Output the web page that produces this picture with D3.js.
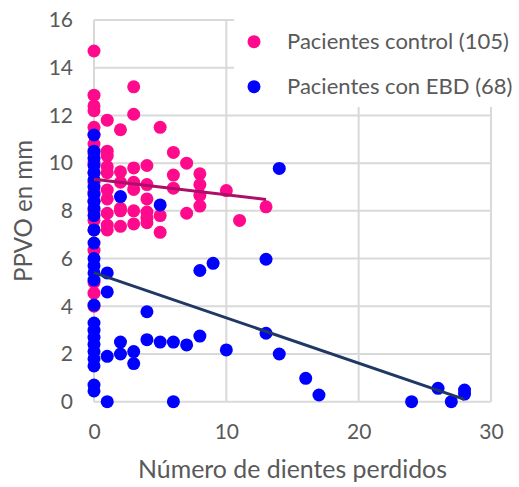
<!DOCTYPE html>
<html>
<head>
<meta charset="utf-8">
<script src="https://cdn.jsdelivr.net/npm/d3@7/dist/d3.min.js"></script>
<style>
  html, body { margin: 0; padding: 0; background: #fff; }
  svg { display: block; }
  text { font-family: Lato, "Open Sans", sans-serif; fill: #595959; }
</style>
</head>
<body>
<svg id="chart" width="519" height="487"></svg>
<script>
// Control patients: teeth lost (x) and PPVO in mm (y)
const controlX = [
  0,0,0,0,0,0,0,0,0,0,0,0,0,0,0,0,0,0,0,0,
  1,1,1,1,1,1,1,1,1,1,
  2,2,2,2,2,2,
  3,3,3,3,3,3,3,
  4,4,4,4,4,4,
  5,5,5,
  6,6,6,
  7,7,
  8,8,8,8,
  10,11,13
];
const controlY = [
  14.7,12.85,12.4,12.2,11.5,11.2,10.8,10.4,10.0,9.6,9.2,8.8,8.4,8.0,7.6,7.2,6.35,4.55,4.0,5.0,
  11.8,10.5,10.3,9.85,9.6,8.87,8.5,7.9,7.4,7.2,
  11.4,9.64,9.2,8.1,7.35,8.0,
  13.2,12.05,9.8,9.2,8.9,8.0,7.45,
  9.9,9.1,8.5,7.95,7.7,7.5,
  11.5,7.8,7.1,
  10.45,9.5,8.95,
  10.0,7.9,
  9.55,9.1,8.65,8.2,
  8.85,7.6,8.17
];

// Patients with EBD
const ebdX = [
  0,0,0,0,0,0,0,0,0,0,0,0,0,0,0,0,0,0,0,0,0,0,0,0,0,0,0,
  1,1,1,1,
  2,2,2,
  3,3,
  4,4,
  5,5,
  6,6,
  7,
  8,8,
  9,
  10,
  13,13,
  14,14,
  16,17,24,26,27,28,28
];
const ebdY = [
  11.18,10.5,10.2,9.9,9.6,9.3,9.0,8.7,8.4,8.1,7.8,7.2,6.65,6.0,5.7,5.4,5.1,4.05,3.3,3.0,2.7,2.4,2.1,1.8,1.5,0.7,0.45,
  5.4,4.6,1.9,0,
  8.6,2.5,2.0,
  2.1,1.6,
  3.77,2.6,
  8.25,2.5,
  2.5,0,
  2.38,
  5.5,2.75,
  5.8,
  2.17,
  5.97,2.87,
  9.78,2.0,
  0.98,0.28,0,0.56,0,0.49,0.32
];

// Linear trend lines (start and end points)
const controlTrendX = [0, 13];
const controlTrendY = [9.32, 8.48];
const ebdTrendX = [0, 28];
const ebdTrendY = [5.41, 0.1];

const xTicks = [0, 10, 20, 30];
const yTicks = [0, 2, 4, 6, 8, 10, 12, 14, 16];
const legendLabels = ["Pacientes control (105)", "Pacientes con EBD (68)"];
const xTitle = "Número de dientes perdidos";
const yTitle = "PPVO en mm";

const colors = { control: "#ff0a8c", ebd: "#0000ff", controlTrend: "#ad0f68", ebdTrend: "#1f3864", grid: "#d9d9d9" };

const svg = d3.select("#chart");
const x = d3.scaleLinear().domain([0, 30]).range([94, 491]);
const y = d3.scaleLinear().domain([0, 16]).range([401.7, 20]);

// fit a text element to a target width by scaling its font size
function fitWidth(sel, target) {
  const w = sel.node().getComputedTextLength();
  const fs = parseFloat(sel.attr("font-size"));
  sel.attr("font-size", (fs * target / w).toFixed(2));
}

// grid
const grid = svg.append("g");
grid.selectAll("line.h").data(yTicks).join("line")
  .attr("x1", x(0)).attr("x2", x(30))
  .attr("y1", d => y(d)).attr("y2", d => y(d))
  .attr("stroke", colors.grid).attr("stroke-width", 2);
grid.selectAll("line.v").data(xTicks).join("line")
  .attr("y1", y(0)).attr("y2", y(16))
  .attr("x1", d => x(d)).attr("x2", d => x(d))
  .attr("stroke", colors.grid).attr("stroke-width", 2);

// axes (labels only)
const yAxis = d3.axisLeft(y).tickValues(yTicks).tickSize(0).tickPadding(21);
const yg = svg.append("g").attr("transform", `translate(${x(0)},0)`).call(yAxis);
yg.select(".domain").remove();
yg.selectAll("text").attr("font-size", 21).attr("font-family", "Lato, sans-serif").attr("fill", "#595959");

const xAxis = d3.axisBottom(x).tickValues(xTicks).tickSize(0).tickPadding(22);
const xg = svg.append("g").attr("transform", `translate(0,${y(0)})`).call(xAxis);
xg.select(".domain").remove();
xg.selectAll("text").attr("font-size", 21).attr("font-family", "Lato, sans-serif").attr("fill", "#595959");

// axis titles
const xt = svg.append("text").attr("x", 292.5).attr("y", 478)
  .attr("text-anchor", "middle").attr("font-size", 22).text(xTitle);
fitWidth(xt, 309);
const yt = svg.append("text").attr("transform", "translate(32,211) rotate(-90)")
  .attr("text-anchor", "middle").attr("font-size", 22).text(yTitle);
fitWidth(yt, 142);

// points
const ctrl = controlX.map((d, i) => ({ x: d, y: controlY[i] }));
const ebd = ebdX.map((d, i) => ({ x: d, y: ebdY[i] }));
svg.append("g").selectAll("circle").data(ctrl).join("circle")
  .attr("cx", d => x(d.x)).attr("cy", d => y(d.y)).attr("r", 6.5).attr("fill", colors.control);
svg.append("g").selectAll("circle").data(ebd).join("circle")
  .attr("cx", d => x(d.x)).attr("cy", d => y(d.y)).attr("r", 6.5).attr("fill", colors.ebd);

// trend lines
const line = d3.line().x(d => x(d[0])).y(d => y(d[1]));
svg.append("path").attr("d", line(controlTrendX.map((d, i) => [d, controlTrendY[i]])))
  .attr("fill", "none").attr("stroke", colors.controlTrend).attr("stroke-width", 3);
svg.append("path").attr("d", line(ebdTrendX.map((d, i) => [d, ebdTrendY[i]])))
  .attr("fill", "none").attr("stroke", colors.ebdTrend).attr("stroke-width", 3);

// legend
const lg = svg.append("g");
lg.append("rect").attr("x", 234).attr("y", 0).attr("width", 285).attr("height", 107).attr("fill", "#fff");
const legendColors = [colors.control, colors.ebd];
legendLabels.forEach((lab, i) => {
  const cy = 41.7 + i * 45;
  lg.append("circle").attr("cx", 254).attr("cy", cy).attr("r", 6.5).attr("fill", legendColors[i]);
  const t = lg.append("text").attr("x", 287).attr("y", cy).attr("dy", "0.35em")
    .attr("font-size", 21).text(lab);
  if (i === 0) fitWidth(t, 222);
  else t.attr("font-size", lg.select("text").attr("font-size"));
});
</script>
</body>
</html>
